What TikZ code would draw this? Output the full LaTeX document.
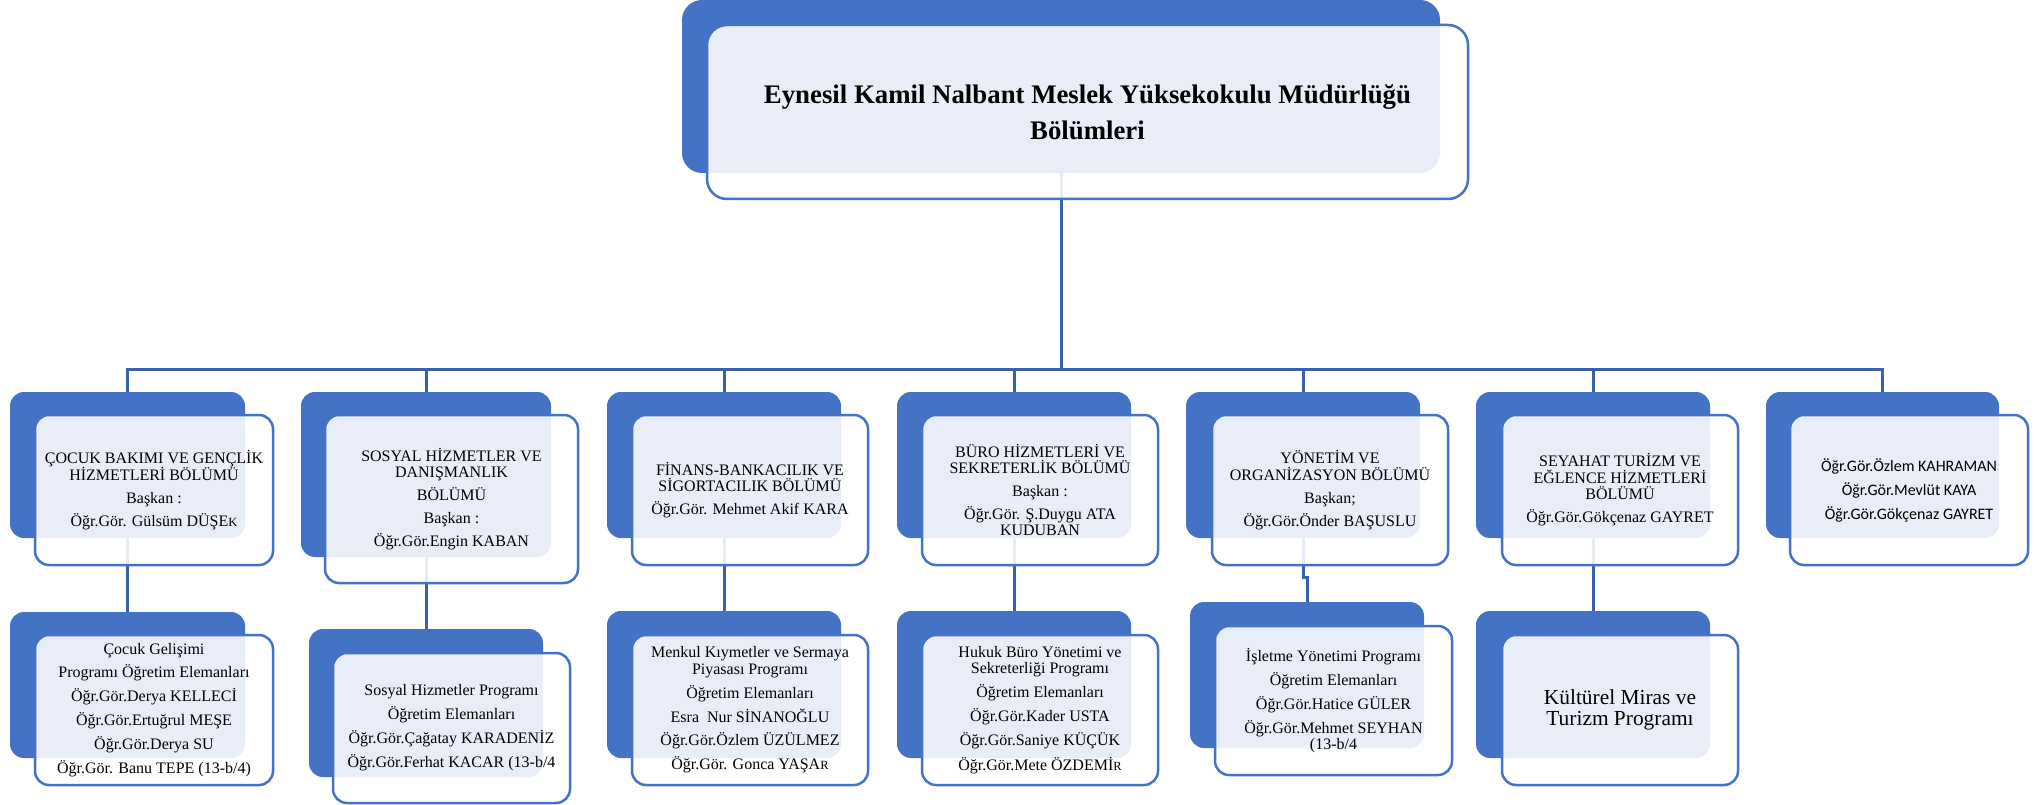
\documentclass[tikz,border=0pt]{standalone}
\usepackage{fontspec}
\setmainfont{Liberation Serif}
\newfontfamily\calibrifont{Carlito}
\usetikzlibrary{backgrounds}
\definecolor{accent}{HTML}{4472C4}
\definecolor{connc}{HTML}{3A62AC}
\newcommand{\smallcap}[1]{{\fontsize{12.5}{12.5}\selectfont #1}}
\tikzset{
  backbox/.style={fill=accent, draw=none, rounded corners=14pt, inner sep=0pt, outer sep=0pt},
  frontbox/.style={draw=accent, line width=2.5pt, fill=white, fill opacity=0.88, text opacity=1,
    rounded corners=14pt, inner sep=0pt, outer sep=0pt, align=center, text=black,
    font=\fontsize{16}{16.4}\selectfont},
  titlefront/.style={frontbox, rounded corners=20pt, font=\fontsize{26.8}{36}\selectfont\bfseries},
  bigprog/.style={frontbox, font=\fontsize{21.4}{21}\selectfont},
  sansfront/.style={frontbox, font=\calibrifont\fontsize{16}{24}\selectfont},
  conn/.style={draw=connc, line width=3pt},
}
\begin{document}
\begin{tikzpicture}[x=1pt,y=-1pt]
\useasboundingbox (0,0) rectangle (2043,805);

% ---------- title ----------
\node[backbox, rounded corners=20pt, minimum width=758pt, minimum height=173pt] (tb) at (1061,86.5) {};
\node[titlefront, minimum width=761pt, minimum height=174pt] (tf) at (1087.5,112)
  {Eynesil Kamil Nalbant Meslek Yüksekokulu Müdürlüğü\\Bölümleri};

% ---------- departments: back boxes ----------
\node[backbox, minimum width=235pt, minimum height=146pt] (b1) at (127.5,465) {};
\node[backbox, minimum width=250pt, minimum height=165pt] (b2) at (426,474.5) {};
\node[backbox, minimum width=234pt, minimum height=146pt] (b3) at (724,465) {};
\node[backbox, minimum width=234pt, minimum height=146pt] (b4) at (1014,465) {};
\node[backbox, minimum width=234pt, minimum height=146pt] (b5) at (1303,465) {};
\node[backbox, minimum width=234pt, minimum height=146pt] (b6) at (1593,465) {};
\node[backbox, minimum width=233pt, minimum height=146pt] (b7) at (1882.5,465) {};

% ---------- departments: front boxes ----------
\node[frontbox, minimum width=238pt, minimum height=150pt] (f1) at (154,490)
  {ÇOCUK BAKIMI VE GENÇLİK\\HİZMETLERİ BÖLÜMÜ\\[6.6pt]Başkan :\\[6.6pt]Öğr.Gör. Gülsüm DÜŞE\smallcap{K}};
\node[frontbox, minimum width=253pt, minimum height=168pt] (f2) at (451.5,499)
  {SOSYAL HİZMETLER VE\\DANIŞMANLIK\\[6.6pt]BÖLÜMÜ\\[6.6pt]Başkan :\\[6.6pt]Öğr.Gör.Engin KABAN};
\node[frontbox, minimum width=236pt, minimum height=150pt] (f3) at (750,490)
  {FİNANS-BANKACILIK VE\\SİGORTACILIK BÖLÜMÜ\\[6.6pt]Öğr.Gör. Mehmet Akif KARA};
\node[frontbox, minimum width=236pt, minimum height=150pt] (f4) at (1040,490)
  {BÜRO HİZMETLERİ VE\\SEKRETERLİK BÖLÜMÜ\\[6.6pt]Başkan :\\[6.6pt]Öğr.Gör. Ş.Duygu ATA\\KUDUBAN};
\node[frontbox, minimum width=236pt, minimum height=150pt] (f5) at (1330,490)
  {YÖNETİM VE\\ORGANİZASYON BÖLÜMÜ\\[6.6pt]Başkan;\\[6.6pt]Öğr.Gör.Önder BAŞUSLU};
\node[frontbox, minimum width=236pt, minimum height=150pt] (f6) at (1620,490)
  {SEYAHAT TURİZM VE\\EĞLENCE HİZMETLERİ\\BÖLÜMÜ\\[6.6pt]Öğr.Gör.Gökçenaz GAYRET};
\node[sansfront, minimum width=238pt, minimum height=150pt] (f7) at (1909,490)
  {Öğr.Gör.Özlem KAHRAMAN\\Öğr.Gör.Mevlüt KAYA\\Öğr.Gör.Gökçenaz GAYRET};

% ---------- programmes: back boxes ----------
\node[backbox, minimum width=235pt, minimum height=146pt] (c1) at (127.5,685) {};
\node[backbox, minimum width=234pt, minimum height=148pt] (c2) at (426,703) {};
\node[backbox, minimum width=234pt, minimum height=147pt] (c3) at (724,684.5) {};
\node[backbox, minimum width=234pt, minimum height=147pt] (c4) at (1014,684.5) {};
\node[backbox, minimum width=234pt, minimum height=146pt] (c5) at (1307,675) {};
\node[backbox, minimum width=234pt, minimum height=147pt] (c6) at (1593,684.5) {};

% ---------- programmes: front boxes ----------
\node[frontbox, minimum width=238pt, minimum height=150pt] (g1) at (154,710)
  {Çocuk Gelişimi\\[6.6pt]Programı Öğretim Elemanları\\[6.6pt]Öğr.Gör.Derya KELLECİ\\[6.6pt]Öğr.Gör.Ertuğrul MEŞE\\[6.6pt]Öğr.Gör.Derya SU\\[6.6pt]Öğr.Gör. Banu TEPE (13-b/4)};
\node[frontbox, minimum width=237pt, minimum height=150pt] (g2) at (451.5,728)
  {Sosyal Hizmetler Programı\\[6.6pt]Öğretim Elemanları\\[6.6pt]Öğr.Gör.Çağatay KARADENİZ\\[6.6pt]Öğr.Gör.Ferhat KACAR (13-b/4};
\node[frontbox, minimum width=236pt, minimum height=150pt] (g3) at (750,710)
  {Menkul Kıymetler ve Sermaya\\Piyasası Programı\\[6.6pt]Öğretim Elemanları\\[6.6pt]Esra\ \ Nur SİNANOĞLU\\[6.6pt]Öğr.Gör.Özlem ÜZÜLMEZ\\[6.6pt]Öğr.Gör. Gonca YAŞA\smallcap{R}};
\node[frontbox, minimum width=236pt, minimum height=150pt] (g4) at (1040,710)
  {Hukuk Büro Yönetimi ve\\Sekreterliği Programı\\[6.6pt]Öğretim Elemanları\\[6.6pt]Öğr.Gör.Kader USTA\\[6.6pt]Öğr.Gör.Saniye KÜÇÜK\\[6.6pt]Öğr.Gör.Mete ÖZDEMİ\smallcap{R}};
\node[frontbox, minimum width=237pt, minimum height=149pt] (g5) at (1333.5,700.5)
  {İşletme Yönetimi Programı\\[6.6pt]Öğretim Elemanları\\[6.6pt]Öğr.Gör.Hatice GÜLER\\[6.6pt]Öğr.Gör.Mehmet SEYHAN\\(13-b/4};
\node[bigprog, minimum width=236pt, minimum height=150pt] (g6) at (1620,710)
  {Kültürel Miras ve\\Turizm Programı};

% ---------- connectors (behind everything) ----------
\coordinate (hub) at (1061,369);
\begin{pgfonlayer}{background}
  \draw[conn] (tb.south) -- (hub);
  \draw[conn] (b1.north) |- (hub) -| (b7.north);
  \foreach \i in {2,...,6} { \draw[conn] (b\i.north |- hub) -- (b\i.north); }
  \draw[conn] (b1.south) -- (c1.north);
  \draw[conn] (b2.south) -- (c2.north);
  \draw[conn] (b3.south) -- (c3.north);
  \draw[conn] (b4.south) -- (c4.north);
  \draw[conn] (b5.south) -- ++(0,39) -| (c5.north);
  \draw[conn] (b6.south) -- (c6.north);
\end{pgfonlayer}
\end{tikzpicture}
\end{document}
